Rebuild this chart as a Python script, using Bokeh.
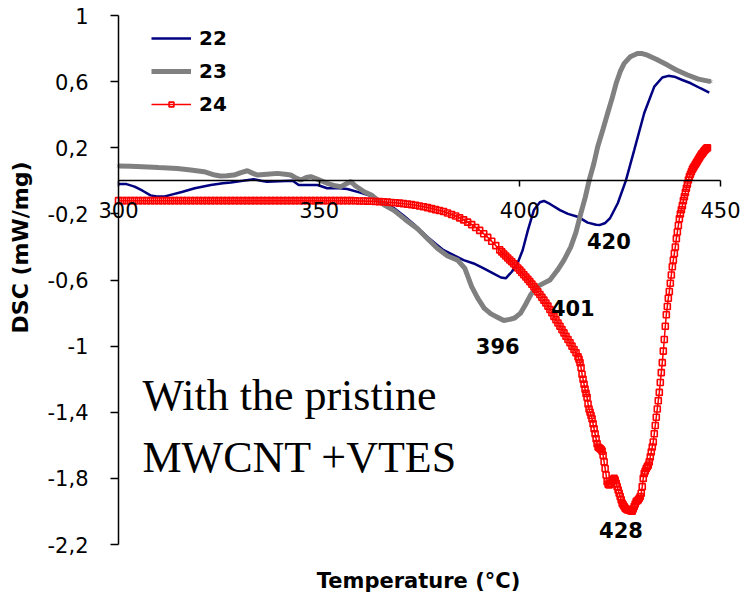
import math

from bokeh.core.properties import value
from bokeh.embed import file_html
from bokeh.models import (CustomJSTickFormatter, FixedTicker, Label, Legend,
                          LegendItem, LinearAxis, Range1d)
from bokeh.plotting import figure
from bokeh.resources import INLINE

# ---------------- DSC traces: temperature (°C) and heat flow (mW/mg) ----------------
t22 = [300, 302, 304, 306, 308,
       309.5, 311.5, 313, 316, 319,
       323, 326, 328, 331, 333.7,
       335.5, 337, 340, 343.4, 344.9,
       347, 349.6, 352, 355, 357,
       360, 363.6, 366, 368.6, 371,
       373.6, 377, 379, 381, 383.5,
       386, 388.5, 391, 393, 395.3,
       396.5, 398, 399.4, 400.7, 402,
       403.5, 405, 406, 407.5, 410,
       412, 414.4, 416.9, 419, 420,
       421.3, 422.5, 424.4, 426.4, 428.5,
       431, 433.5, 435.5, 437, 438.5,
       440.5, 442.6, 445, 447.2]
v22 = [-0.02, -0.02, -0.035, -0.06, -0.088,
       -0.095, -0.095, -0.085, -0.066, -0.045,
       -0.025, -0.015, -0.01, 0.0, 0.01,
       0.0, -0.005, -0.003, 0.0, -0.025,
       -0.025, -0.025, -0.045, -0.045, -0.05,
       -0.07, -0.096, -0.13, -0.165, -0.21,
       -0.262, -0.34, -0.38, -0.42, -0.45,
       -0.48, -0.50, -0.53, -0.555, -0.585,
       -0.59, -0.55, -0.50, -0.42, -0.30,
       -0.177, -0.13, -0.122, -0.14, -0.177,
       -0.20, -0.217, -0.253, -0.266, -0.267,
       -0.255, -0.225, -0.136, 0.0, 0.186,
       0.41, 0.57, 0.625, 0.635, 0.63,
       0.61, 0.59, 0.56, 0.533]

t23 = [300, 303, 306, 310, 314.6,
       318, 321.3, 324, 325.4, 327,
       328.8, 330.5, 332.1, 333.5, 334.6,
       337, 339.6, 341.5, 342.9, 344,
       345.4, 346.8, 347.9, 349.5, 352,
       354, 355.4, 357, 357.9, 359,
       361.2, 363, 364.5, 366.5, 368.7,
       371.5, 374.5, 377, 379.5, 382,
       384.5, 386.3, 388, 389.5, 391.1,
       392.8, 394.4, 396, 397.5, 398.7,
       400.2, 401.5, 402.7, 404, 405.5,
       407.5, 409.4, 411, 412.7, 414,
       415.2, 416.3, 417.3, 418.4, 419.4,
       420.7, 421.9, 423, 424, 425,
       426, 427.5, 429.3, 430.5, 431.8,
       434, 436.8, 439, 441.8, 444.5,
       447.6]
v23 = [0.09, 0.088, 0.085, 0.08, 0.075,
       0.065, 0.055, 0.035, 0.029, 0.03,
       0.035, 0.05, 0.061, 0.045, 0.035,
       0.04, 0.045, 0.04, 0.035, 0.02,
       0.005, 0.02, 0.025, 0.01, -0.015,
       -0.03, -0.035, -0.015, -0.005, -0.03,
       -0.066, -0.086, -0.116, -0.15, -0.18,
       -0.235, -0.29, -0.35, -0.41, -0.455,
       -0.48, -0.53, -0.64, -0.71, -0.77,
       -0.805, -0.825, -0.845, -0.838, -0.83,
       -0.80, -0.745, -0.69, -0.645, -0.625,
       -0.60, -0.54, -0.48, -0.40, -0.31,
       -0.197, -0.10, 0.005, 0.10, 0.206,
       0.31, 0.41, 0.50, 0.59, 0.66,
       0.71, 0.75, 0.77, 0.77, 0.76,
       0.735, 0.70, 0.67, 0.64, 0.615,
       0.60]

t24 = [300, 301, 302, 303, 304, 305, 306, 307, 308, 309,
       310, 311, 312, 313, 314, 315, 316, 317, 318, 319,
       320, 321, 322, 323, 324, 325, 326, 327, 328, 329,
       330, 331, 332, 333, 334, 335, 336, 337, 338, 339,
       340, 341, 342, 343, 344, 345, 346, 347, 348, 349,
       350, 351, 352, 353, 354, 355, 356, 357, 358, 359,
       360, 361, 362, 363, 364, 365, 366, 367, 368, 369,
       370, 371, 372, 373, 374, 375, 376, 377, 378, 379,
       380, 381, 382, 383, 384, 385, 386, 387, 388, 389,
       390, 391, 392, 393, 394, 395,
       395.5, 396, 396.5, 397, 397.5, 398, 398.5, 399, 399.5, 400,
       400.5, 401, 401.5, 402, 402.5, 403, 403.5, 404, 404.5, 405,
       405.5, 406, 406.5, 407, 407.5, 408, 408.5, 409, 409.5, 410,
       410.5, 411, 411.5, 412, 412.5, 413, 413.5, 414, 414.5,
       414.75,
       415, 415.25, 415.5, 415.75,
       416, 416.25, 416.5, 416.75,
       417, 417.25, 417.5, 417.75,
       418, 418.25, 418.5, 418.75,
       419, 419.25, 419.5, 419.75,
       420, 420.25, 420.5, 420.75,
       421, 421.25, 421.5, 421.75,
       422, 422.25, 422.5, 422.75,
       423, 423.25, 423.5, 423.75,
       424, 424.25, 424.5, 424.75,
       425, 425.25, 425.5, 425.75,
       426, 426.25, 426.5, 426.75,
       427, 427.25, 427.5, 427.75,
       428, 428.25, 428.5, 428.75,
       429, 429.25, 429.5, 429.75,
       430, 430.25, 430.5, 430.75,
       431, 431.25, 431.5, 431.75,
       432, 432.25, 432.5, 432.75,
       433, 433.25, 433.5, 433.75,
       434, 434.25, 434.5, 434.75,
       435, 435.25, 435.5, 435.75,
       436, 436.25, 436.5, 436.75,
       437, 437.25, 437.5, 437.75,
       438, 438.25, 438.5, 438.75,
       439, 439.25, 439.5, 439.75,
       440, 440.25, 440.5, 440.75,
       441, 441.25, 441.5, 441.75,
       442, 442.25, 442.5, 442.75,
       443, 443.25, 443.5, 443.75,
       444, 444.25, 444.5, 444.75,
       445, 445.25, 445.5, 445.75,
       446, 446.25, 446.5, 446.75]
v24 = [-0.12, -0.12, -0.12, -0.12, -0.12, -0.12, -0.12, -0.12, -0.12, -0.12,
       -0.12, -0.12, -0.12, -0.12, -0.12, -0.12, -0.12, -0.12, -0.12, -0.12,
       -0.12, -0.12, -0.12, -0.12, -0.12, -0.12, -0.12, -0.12, -0.12, -0.12,
       -0.12, -0.12, -0.12, -0.12, -0.12, -0.12, -0.12, -0.12, -0.12, -0.12,
       -0.12, -0.12, -0.12, -0.12, -0.12, -0.12, -0.12, -0.12, -0.12, -0.12,
       -0.12, -0.12, -0.12, -0.12, -0.12, -0.12, -0.12, -0.12, -0.12, -0.121,
       -0.122, -0.122, -0.123, -0.124, -0.125, -0.126, -0.127, -0.129, -0.131, -0.133,
       -0.135, -0.138, -0.141, -0.144, -0.148, -0.152, -0.157, -0.162, -0.168, -0.174,
       -0.18, -0.186, -0.195, -0.204, -0.213, -0.224, -0.236, -0.25, -0.265, -0.282,
       -0.30, -0.32, -0.342, -0.366, -0.392, -0.418,
       -0.43, -0.443, -0.455, -0.467, -0.479, -0.49, -0.502, -0.514, -0.527, -0.54,
       -0.554, -0.568, -0.582, -0.596, -0.61, -0.625, -0.64, -0.656, -0.672, -0.688,
       -0.705, -0.722, -0.739, -0.758, -0.778, -0.798, -0.82, -0.84, -0.86, -0.88,
       -0.90, -0.92, -0.94, -0.96, -0.98, -1.00, -1.02, -1.04, -1.065,
       -1.08,
       -1.10, -1.13, -1.17, -1.20,
       -1.23, -1.26, -1.286, -1.31,
       -1.35, -1.38, -1.40, -1.42,
       -1.44, -1.47, -1.50, -1.53,
       -1.56, -1.59, -1.61, -1.615,
       -1.62, -1.625, -1.635, -1.66,
       -1.70, -1.74, -1.78, -1.82,
       -1.835, -1.84, -1.835, -1.83,
       -1.815, -1.805, -1.80, -1.81,
       -1.83, -1.85, -1.87, -1.89,
       -1.91, -1.93, -1.95, -1.96,
       -1.97, -1.98, -1.985, -1.99,
       -1.99, -1.993, -1.995, -1.996,
       -1.998, -1.985, -1.97, -1.955,
       -1.94, -1.935, -1.93, -1.92,
       -1.91, -1.89, -1.85, -1.80,
       -1.77, -1.755, -1.74, -1.73,
       -1.72, -1.70, -1.67, -1.64,
       -1.61, -1.58, -1.53, -1.48,
       -1.43, -1.38, -1.33, -1.28,
       -1.22, -1.16, -1.10, -1.03,
       -0.96, -0.88, -0.81, -0.76,
       -0.71, -0.67, -0.62, -0.57,
       -0.52, -0.48, -0.44, -0.40,
       -0.35, -0.31, -0.27, -0.23,
       -0.20, -0.175, -0.15, -0.12,
       -0.096, -0.07, -0.045, -0.02,
       0.005, 0.025, 0.04, 0.055,
       0.07, 0.08, 0.09, 0.10,
       0.11, 0.12, 0.13, 0.14,
       0.15, 0.16, 0.166, 0.175,
       0.183, 0.19, 0.196, 0.2]

series_names = ["22", "23", "24"]

# axis ticks and the extent of each axis line
x_ticks = [300, 350, 400, 450]
y_ticks = [-2.2, -1.8, -1.4, -1.0, -0.6, -0.2, 0.2, 0.6, 1.0]
x_bounds = (300, 450)
y_bounds = (-2.2, 1.0)

# peak temperatures written next to the curves
peak_text = ["396", "401", "420", "428"]
peak_t = [394.5, 413.2, 422.2, 425.2]
peak_v = [-1.0, -0.77, -0.364, -2.11]

NAVY = "#000080"
GRAY = "#808080"
RED = "#FF0000"
SANS = "DejaVu Sans"

# The whole canvas is the plotting frame; both axes sit at fixed data positions,
# so the ranges are widened to leave room for tick labels and titles.
W, H = 750, 598
AX_LEFT, AX_RIGHT, AX_TOP, AX_BOTTOM = 118, 720, 15, 544   # where the axis ends fall
kx = (AX_RIGHT - AX_LEFT) / (x_bounds[1] - x_bounds[0])
ky = (AX_BOTTOM - AX_TOP) / (y_bounds[1] - y_bounds[0])
x_range = Range1d(x_bounds[0] - AX_LEFT / kx, x_bounds[1] + (W - AX_RIGHT) / kx)
y_range = Range1d(y_bounds[0] - (H - AX_BOTTOM) / ky, y_bounds[1] + AX_TOP / ky)


def px_x(px):
    return x_range.start + px / kx


def px_y(py):
    return y_range.end - py / ky


p = figure(width=W, height=H, x_range=x_range, y_range=y_range,
           x_axis_type=None, y_axis_type=None,
           output_backend="svg", toolbar_location=None,
           min_border=0, min_border_left=0, min_border_right=0,
           min_border_top=0, min_border_bottom=0,
           outline_line_color=None,
           background_fill_color="white", border_fill_color="white")

# x axis crossing at DSC = 0
xax = LinearAxis(ticker=FixedTicker(ticks=x_ticks), fixed_location=0, bounds=x_bounds)
xax.axis_line_width = 1.5
xax.major_tick_line_width = 1.5
xax.major_tick_out = 6
xax.major_tick_in = 0
xax.minor_tick_line_color = None
xax.major_label_standoff = 15
xax.major_label_text_font = SANS
xax.major_label_text_font_size = "21px"
xax.major_label_text_color = "black"
p.add_layout(xax, "below")

# y axis at 300 °C with comma decimals
yax = LinearAxis(ticker=FixedTicker(ticks=y_ticks), fixed_location=300, bounds=y_bounds,
                 formatter=CustomJSTickFormatter(
                     code="return tick.toFixed(1).replace('.', ',').replace(/,0$/, '');"))
yax.axis_line_width = 1.5
yax.major_tick_line_width = 1.5
yax.major_tick_out = 8
yax.major_tick_in = 0
yax.minor_tick_line_color = None
yax.major_label_standoff = 22
yax.major_label_text_font = SANS
yax.major_label_text_font_size = "21px"
yax.major_label_text_color = "black"
p.add_layout(yax, "left")

# axis titles
p.add_layout(Label(x=px_x(20), y=px_y(247), text="DSC (mW/mg)", angle=math.pi / 2,
                   text_align="center", text_baseline="middle",
                   text_font=SANS, text_font_style="bold",
                   text_font_size="22px", text_color="black"))
p.add_layout(Label(x=px_x(418), y=px_y(580), text="Temperature (°C)",
                   text_align="center", text_baseline="middle",
                   text_font=SANS, text_font_style="bold",
                   text_font_size="21px", text_color="black"))

# curves
r22 = p.line(t22, v22, line_color=NAVY, line_width=2.5)
r23 = p.line(t23, v23, line_color=GRAY, line_width=5)
m23 = p.scatter(t23, v23, marker="x", size=4, line_color=GRAY, line_width=1)
r24 = p.line(t24, v24, line_color=RED, line_width=1.5)
m24 = p.scatter(t24, v24, marker="square", size=6, line_color=RED,
                fill_color=None, line_width=1.6)

legend = Legend(items=[LegendItem(label=series_names[0], renderers=[r22]),
                       LegendItem(label=series_names[1], renderers=[r23, m23]),
                       LegendItem(label=series_names[2], renderers=[r24, m24])],
                location=(151, 482), orientation="vertical",
                glyph_width=40, glyph_height=12, label_height=24,
                label_standoff=8, spacing=9, padding=10, margin=0,
                border_line_color=None, background_fill_alpha=0,
                label_text_font=SANS, label_text_font_style="bold",
                label_text_font_size="20px", label_text_color="black")
p.add_layout(legend)

# peak temperatures
p.text(x=peak_t, y=peak_v, text=peak_text,
       text_font=value(SANS), text_font_style="bold",
       text_font_size=value("21px"), text_color="black",
       text_align="center", text_baseline="middle")

# sample description
p.add_layout(Label(x=px_x(142), y=px_y(395), text="With the pristine",
                   text_align="left", text_baseline="alphabetic",
                   text_font="Liberation Serif", text_font_size="44px",
                   text_color="black"))
p.add_layout(Label(x=px_x(142), y=px_y(457), text="MWCNT +VTES",
                   text_align="left", text_baseline="alphabetic",
                   text_font="Liberation Serif", text_font_size="44px",
                   text_color="black"))

open("out.html", "w").write(file_html(p, INLINE))
